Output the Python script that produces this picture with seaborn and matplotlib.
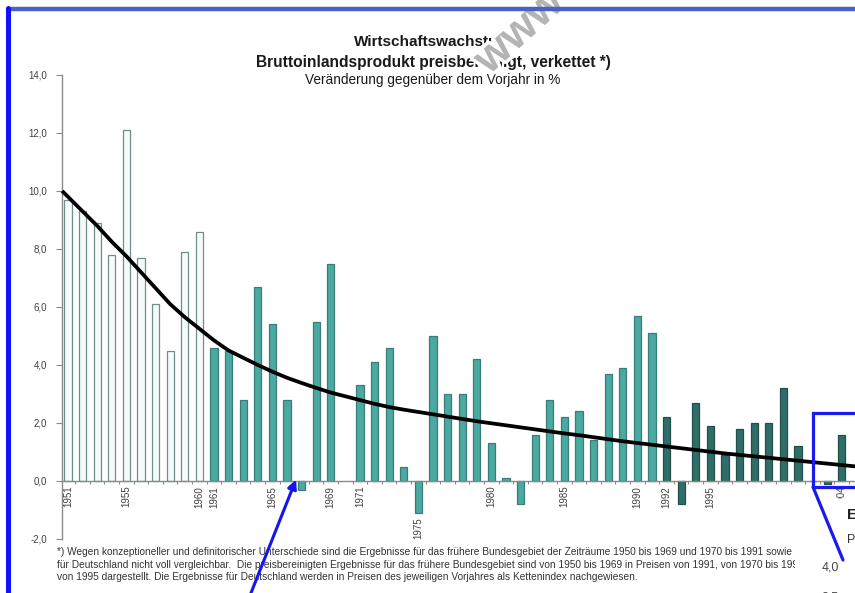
import numpy as np
import pandas as pd
import matplotlib
matplotlib.use("Agg")
import matplotlib.pyplot as plt
import matplotlib.patheffects as pe
from matplotlib.patches import Rectangle, FancyArrowPatch
from matplotlib.lines import Line2D
from matplotlib.transforms import Bbox
from matplotlib.ticker import FixedLocator, FuncFormatter
import seaborn as sns

# ---- data -----------------------------------------------------------------
years = list(range(1951, 2005))
growth = [9.7, 9.3, 8.9, 7.8, 12.1, 7.7, 6.1, 4.5, 7.9, 8.6,          # 1951-1960
          4.6, 4.5, 2.8, 6.7, 5.4, 2.8, -0.3, 5.5, 7.5, np.nan,        # 1961-1970
          3.3, 4.1, 4.6, 0.5, -1.1, 5.0, 3.0, 3.0, 4.2, 1.3,           # 1971-1980
          0.1, -0.8, 1.6, 2.8, 2.2, 2.4, 1.4, 3.7, 3.9, 5.7, 5.1,      # 1981-1991
          2.2, -0.8, 2.7, 1.9, 0.9, 1.8, 2.0, 2.0, 3.2, 1.2, 0.0,      # 1992-2002
          -0.1, 1.6]                                                   # 2003-2004
period_names = ["1950-1960", "1961-1991", "ab 1991"]
period_start = [1951, 1961, 1992]

trend_years = [1950.6] + list(range(1951, 2006))
trend_values = [10.0, 9.8, 9.3, 8.8, 8.25, 7.75, 7.2, 6.65, 6.1, 5.65, 5.25,
                4.85, 4.5, 4.25, 4.0, 3.77, 3.56, 3.38, 3.21, 3.05, 2.92,
                2.79, 2.66, 2.55, 2.46, 2.38, 2.30, 2.22, 2.14, 2.06, 1.99,
                1.92, 1.85, 1.78, 1.71, 1.64, 1.58, 1.51, 1.44, 1.37, 1.31,
                1.25, 1.19, 1.13, 1.07, 1.01, 0.95, 0.90, 0.85, 0.80, 0.75,
                0.70, 0.65, 0.60, 0.55, 0.50]

label_years = [1951, 1955, 1960, 1961, 1965, 1969, 1971, 1975, 1980,
               1985, 1990, 1992, 1995, 2004]
y_ticks = [-2, 0, 2, 4, 6, 8, 10, 12, 14]

title_lines = ["Wirtschaftswachstum",
               "Bruttoinlandsprodukt preisbereinigt, verkettet *)",
               "Veränderung gegenüber dem Vorjahr in %"]
footnote_lines = [
    "*) Wegen konzeptioneller und definitorischer Unterschiede sind die Ergebnisse für das frühere "
    "Bundesgebiet der Zeiträume 1950 bis 1969 und 1970 bis 1991 sowie die Ergebnisse",
    "für Deutschland nicht voll vergleichbar.  Die preisbereinigten Ergebnisse für das frühere "
    "Bundesgebiet sind von 1950 bis 1969 in Preisen von 1991, von 1970 bis 1991 in Preisen",
    "von 1995 dargestellt. Die Ergebnisse für Deutschland werden in Preisen des jeweiligen "
    "Vorjahres als Kettenindex nachgewiesen.",
]

# ---- table ----------------------------------------------------------------
def period_of(y):
    idx = 0
    for k, s in enumerate(period_start):
        if y >= s:
            idx = k
    return period_names[idx]

df = pd.DataFrame({"Jahr": [str(y) for y in years],
                   "Veraenderung": growth,
                   "Zeitraum": [period_of(y) for y in years]})
order = [str(y) for y in years]

# ---- style ----------------------------------------------------------------
sns.set_theme(style="white")
plt.rcParams["font.family"] = ["Liberation Sans", "DejaVu Sans"]

W, H = 855, 593
fig = plt.figure(figsize=(W / 100, H / 100), dpi=100)
fig.patch.set_facecolor("white")

def fx(px):
    return px / W

def fy(py):
    return 1 - py / H

ax = fig.add_axes([fx(62), fy(539), fx(855) - fx(62), fy(75) - fy(539)])
ax.set_facecolor("none")

bar_styles = {
    "1950-1960": dict(color="#f4fbfa", edgecolor="#6f8e8b"),
    "1961-1991": dict(color="#4aa9a1", edgecolor="#3b7c78"),
    "ab 1991": dict(color="#2e6d68", edgecolor="#234f4b"),
}
for name in period_names:
    sub = df[(df["Zeitraum"] == name) & df["Veraenderung"].notna()]
    sns.barplot(data=sub, x="Jahr", y="Veraenderung", order=order, ax=ax,
                width=0.5, saturation=1, linewidth=0.9, errorbar=None,
                zorder=2, **bar_styles[name])

# trend curve
pos_of = lambda y: y - years[0]
ax.plot([pos_of(y) for y in trend_years], trend_values, color="black",
        lw=2.7, solid_capstyle="butt", zorder=4, clip_on=False)

ax.set_xlim(-0.41, (855 - 68) / 14.6)
ax.set_ylim(-2, 14)
ax.set_xlabel("")
ax.set_ylabel("")

for s in ["top", "right"]:
    ax.spines[s].set_visible(False)
ax.spines["left"].set_color("#8a8a8a")
ax.spines["left"].set_linewidth(1.0)
ax.spines["bottom"].set_position(("data", 0))
ax.spines["bottom"].set_color("#8a8a8a")
ax.spines["bottom"].set_linewidth(1.0)
ax.spines["bottom"].set_zorder(3)

ax.yaxis.set_major_locator(FixedLocator(y_ticks))
ax.yaxis.set_major_formatter(FuncFormatter(lambda v, p: f"{v:.1f}".replace(".", ",")))
ax.tick_params(axis="y", direction="out", length=4, width=0.8, color="#8a8a8a",
               labelsize=7, labelcolor="#404040", pad=7, left=True)
ax.xaxis.set_major_locator(FixedLocator([i - 0.5 for i in range(len(years) + 1)]))
ax.set_xticklabels([])
ax.tick_params(axis="x", direction="out", length=2.5, width=0.8, color="#8a8a8a",
               bottom=True)

for y in label_years:
    i = years.index(y)
    v = growth[i]
    base = min(0.0, v) if not np.isnan(v) else 0.0
    ax.annotate(str(y), xy=(i, base), xytext=(0, -3.5), textcoords="offset points",
                rotation=90, ha="center", va="top", fontsize=7, color="#404040")

# ---- titles ---------------------------------------------------------------
fig.text(fx(433), fy(42), title_lines[0], ha="center", va="center",
         fontsize=11, fontweight="bold", color="#1a1a1a")
fig.text(fx(433), fy(62), title_lines[1], ha="center", va="center",
         fontsize=11.2, fontweight="bold", color="#1a1a1a")
fig.text(fx(433), fy(80), title_lines[2], ha="center", va="center",
         fontsize=9.8, color="#1a1a1a")

# ---- footnote (clipped at the text box edge) ------------------------------
clip = Bbox([[0, 0], [795, H]])
for k, line in enumerate(footnote_lines):
    t = fig.text(fx(57), fy(552 + 12.5 * k), line, ha="left", va="center",
                 fontsize=7.3, color="#333333")
    t.set_clip_box(clip)
    t.set_clip_on(True)

# ---- watermark --------------------------------------------------------------
fig.text(fx(520), fy(32), "www", rotation=42, ha="center", va="center",
         fontsize=32, fontweight="bold", color="#b4b4b4",
         path_effects=[pe.withStroke(linewidth=5, foreground="white")])

# ---- magnifier box and inset fragment on the right -------------------------
fig.add_artist(Rectangle((fx(815), fy(593)), fx(855) - fx(815), fy(499) - fy(593),
                         transform=fig.transFigure, facecolor="white",
                         edgecolor="none", zorder=5))
fig.add_artist(Rectangle((fx(813), fy(487)), fx(870) - fx(813), fy(413) - fy(487),
                         transform=fig.transFigure, facecolor="none",
                         edgecolor="#1a1aee", lw=2.3, zorder=6))
fig.add_artist(Line2D([fx(813), fx(843)], [fy(487), fy(560)],
                      transform=fig.transFigure, color="#1a1aee", lw=2.3, zorder=6))
fig.text(fx(847), fy(515), "E", ha="left", va="center", fontsize=11,
         fontweight="bold", color="#222222", zorder=7)
fig.text(fx(847), fy(540), "P", ha="left", va="center", fontsize=9,
         color="#333333", zorder=7)
fig.text(fx(822), fy(567), "4,0", ha="left", va="center", fontsize=9,
         color="#444444", zorder=7)
fig.text(fx(822), fy(597), "3,5", ha="left", va="center", fontsize=9,
         color="#444444", zorder=7)

# ---- pointer arrow ----------------------------------------------------------
fig.add_artist(FancyArrowPatch((fx(249), fy(598)), (fx(297), fy(477)),
                               transform=fig.transFigure, arrowstyle="-|>",
                               mutation_scale=13, color="#1515ee", lw=2.2,
                               zorder=8))

# ---- frame --------------------------------------------------------------------
fig.add_artist(Line2D([fx(8), fx(855)], [fy(9), fy(9)], transform=fig.transFigure,
                      color="#4863c6", lw=3.2, zorder=9))
fig.add_artist(Line2D([fx(7.5), fx(7.5)], [fy(8), fy(593)], transform=fig.transFigure,
                      color="#1010ff", lw=3.6, zorder=9))

fig.savefig("out.png", dpi=100, facecolor="white")
